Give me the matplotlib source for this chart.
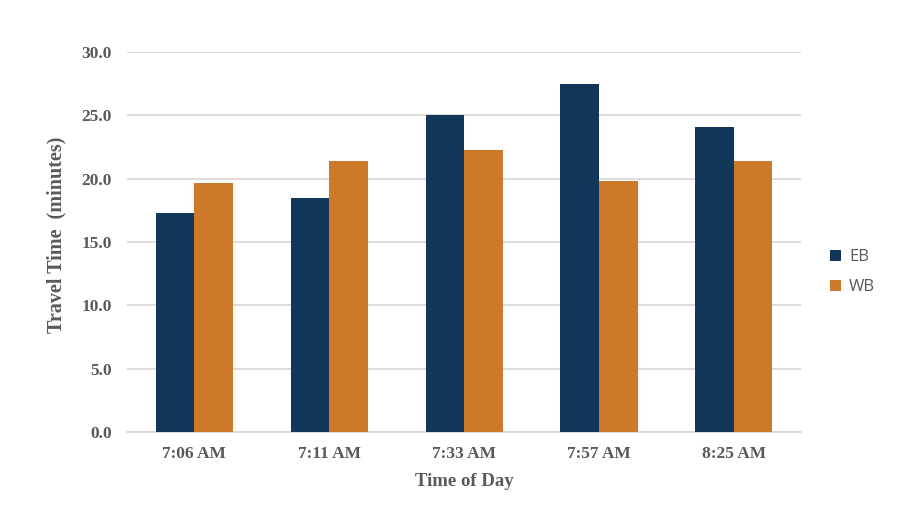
import numpy as np
import matplotlib
matplotlib.use("Agg")
import matplotlib.pyplot as plt

# travel time by departure time
times = ["7:06 AM", "7:11 AM", "7:33 AM", "7:57 AM", "8:25 AM"]
eb_minutes = [17.3, 18.5, 25.0, 27.5, 24.1]
wb_minutes = [19.7, 21.4, 22.3, 19.8, 21.4]
y_ticks = [0, 5, 10, 15, 20, 25, 30]

eb_color = "#13375a"
wb_color = "#cc7a2a"
text_gray = "#595959"

fig = plt.figure(figsize=(9.2, 5.21), dpi=100)
ax = fig.add_axes([0.138, 0.171, 0.733, 0.729])

x = np.arange(len(times))
width = 0.286
ax.bar(x - width / 2, eb_minutes, width, color=eb_color, label="EB", zorder=3)
ax.bar(x + width / 2, wb_minutes, width, color=wb_color, label="WB", zorder=3)

ax.set_xlim(-0.5, len(times) - 0.5)
ax.set_ylim(0, 30)
ax.set_yticks(y_ticks)
ax.set_yticklabels(["%.1f" % v for v in y_ticks])
ax.set_xticks(x)
ax.set_xticklabels(times)

serif = {"family": "Liberation Serif", "weight": "bold", "color": text_gray}
for lab in ax.get_xticklabels() + ax.get_yticklabels():
    lab.set_fontfamily("Liberation Serif")
    lab.set_fontweight("bold")
    lab.set_color(text_gray)
    lab.set_fontsize(12.5)

ax.tick_params(axis="both", length=0)
ax.tick_params(axis="y", pad=11)
ax.tick_params(axis="x", pad=10)

ax.yaxis.grid(True, color="#d9d9d9", linewidth=1.3, zorder=0)
for side in ["top", "right", "left"]:
    ax.spines[side].set_visible(False)
ax.spines["bottom"].set_color("#d9d9d9")
ax.spines["bottom"].set_linewidth(1.3)

ax.set_ylabel("Travel Time  (minutes)", fontsize=14.5, **serif)
# label's right edge sits just left of the tick labels
ax.yaxis.set_label_coords(-0.089, 0.52)
ax.set_xlabel("Time of Day", fontsize=13.5, labelpad=8, **serif)

leg = ax.legend(loc="center left", bbox_to_anchor=(1.02, 0.42), frameon=False,
                handlelength=0.7, handleheight=0.7, handletextpad=0.45,
                labelspacing=0.85, prop={"family": "Open Sans", "size": 12})
for t in leg.get_texts():
    t.set_color(text_gray)

fig.savefig("out.png", dpi=100)
